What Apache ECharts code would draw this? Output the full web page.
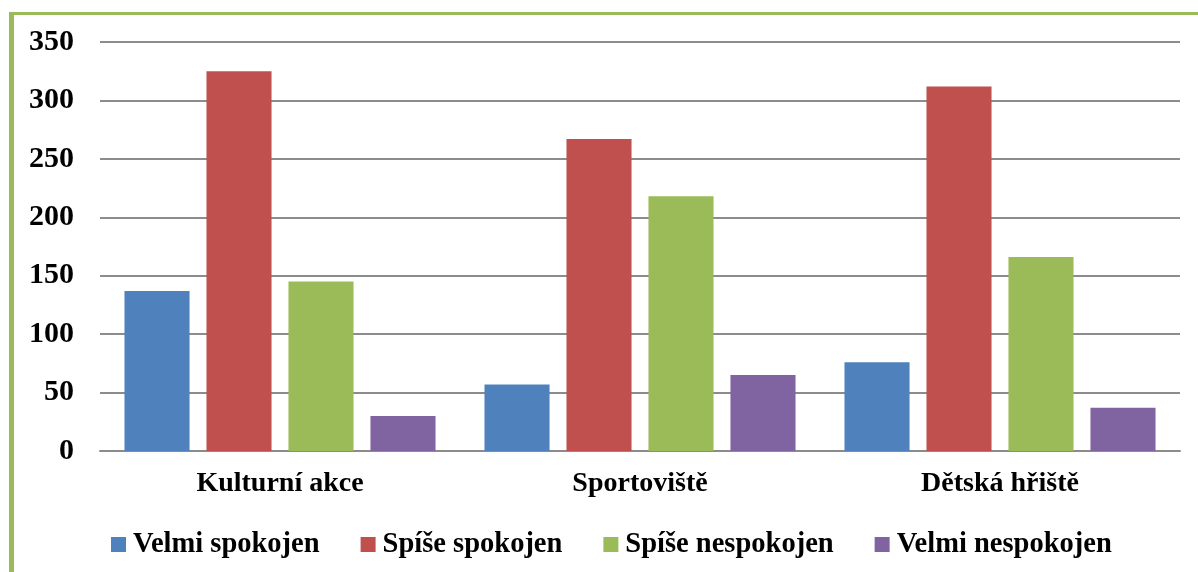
<!DOCTYPE html>
<html>
<head>
<meta charset="utf-8">
<script src="https://cdn.jsdelivr.net/npm/echarts@6/dist/echarts.min.js"></script>
<style>
    html, body { margin: 0; padding: 0; background: #fff; overflow: hidden; }
    #frame { position: absolute; left: 9px; top: 12px; width: 1300px; height: 700px; border: 3px solid #9bbb59; border-left-width: 5px; box-sizing: border-box; }
    #chart { position: absolute; left: 0; top: 0; width: 1198px; height: 572px; }
</style>
</head>
<body>
<div id="frame"></div>
<div id="chart"></div>
<script>
// data
const categories = ['Kulturní akce', 'Sportoviště', 'Dětská hřiště']
const seriesNames = ['Velmi spokojen', 'Spíše spokojen', 'Spíše nespokojen', 'Velmi nespokojen']
const velmiSpokojen = [137, 57, 76]
const spiseSpokojen = [325, 267, 312]
const spiseNespokojen = [145, 218, 166]
const velmiNespokojen = [30, 65, 37]
const colors = ['#4f81bd', '#c0504d', '#9bbb59', '#8064a2']

const font = "'Liberation Serif', 'DejaVu Serif', serif"
const values = [velmiSpokojen, spiseSpokojen, spiseNespokojen, velmiNespokojen]

const myChart = echarts.init(document.getElementById('chart'))
myChart.setOption({
    animation: false,
    color: colors,
    grid: {
        top: 42,
        left: 100,
        right: 18,
        bottom: 121,
        containLabel: false,
    },
    legend: {
        left: 106,
        top: 525,
        itemWidth: 15,
        itemHeight: 15,
        itemGap: 41,
        icon: 'rect',
        textStyle: {
            fontFamily: font,
            fontWeight: 'bold',
            fontSize: 28.5,
            color: '#000',
            padding: [0, 0, 0, 2],
        },
        data: seriesNames,
    },
    xAxis: {
        type: 'category',
        data: categories,
        axisLine: {
            show: true,
            lineStyle: { color: '#8c8c8c', width: 2 },
        },
        axisTick: { show: false },
        splitLine: { show: false },
        axisLabel: {
            fontFamily: font,
            fontWeight: 'bold',
            fontSize: 28,
            color: '#000',
            margin: 19,
            interval: 0,
        },
    },
    yAxis: {
        type: 'value',
        min: 0,
        max: 350,
        interval: 50,
        axisLine: { show: false },
        axisTick: { show: false },
        splitLine: {
            show: true,
            lineStyle: { color: '#8c8c8c', width: 2 },
        },
        axisLabel: {
            fontFamily: font,
            fontWeight: 'bold',
            fontSize: 30,
            color: '#000',
            margin: 26,
        },
    },
    series: seriesNames.map((name, i) => ({
        name: name,
        type: 'bar',
        data: values[i],
        barGap: '26%',
        barCategoryGap: '13.6%',
        itemStyle: { color: colors[i] },
    })),
})
</script>
</body>
</html>
